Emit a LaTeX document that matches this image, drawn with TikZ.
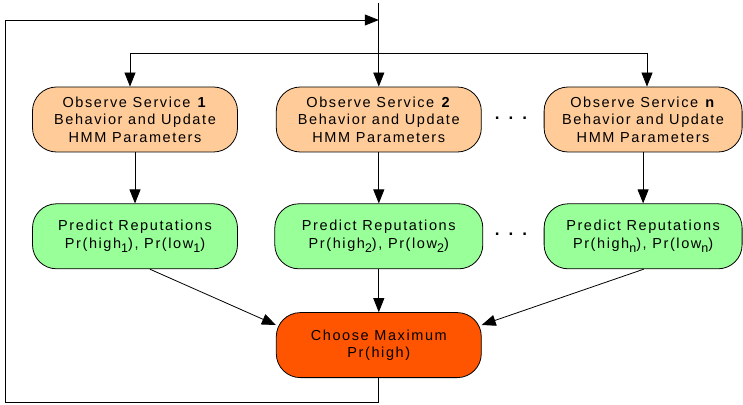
\documentclass[tikz,border=0pt]{standalone}
\usepackage{fontspec}
\setmainfont{Liberation Sans}[LetterSpace=11]
\usetikzlibrary{arrows.meta,positioning,shapes}
\tikzset{
  box/.style={draw, line width=0.8pt, rounded corners=24pt, minimum width=205pt,
    minimum height=65pt, align=center, inner sep=2pt,
    font=\fontsize{14.5}{17.5}\selectfont},
  obsbox/.style={box, fill=obscol},
  predbox/.style={box, fill=predcol},
  maxbox/.style={box, fill=maxcol},
  flow/.style={line width=0.8pt, -{Triangle[length=14pt,width=11pt]}},
  link/.style={line width=0.8pt}
}
\definecolor{obscol}{HTML}{FFCC99}
\definecolor{predcol}{HTML}{99FF99}
\definecolor{maxcol}{HTML}{FF5500}
\newcommand\dotsgap{\textbf{.\hspace{9pt}.\hspace{9pt}.}}
\newcommand\sub[1]{\raisebox{-4.5pt}{\fontsize{12.5}{12.5}\selectfont #1}}

\begin{document}
\begin{tikzpicture}[x=1pt, y=1pt]
    \useasboundingbox (0,0) rectangle (743,404);
    \node[obsbox] (obs1) at (135,284.5) {Observe Service \textbf{1}\\Behavior and Update\\HMM Parameters};
    \node[obsbox] (obs2) [right=38pt of obs1] {Observe Service \textbf{2}\\Behavior and Update\\HMM Parameters};
    \node[obsbox, minimum width=198pt] (obsn) [right=62pt of obs2] {Observe Service \textbf{n}\\Behavior and Update\\HMM Parameters};
    \node[predbox] (pred1) [below=51pt of obs1] {Predict Reputations\\Pr(high\sub{1}), Pr(low\sub{1})};
    \node[predbox, minimum width=208pt] (pred2) [below=51pt of obs2] {Predict Reputations\\Pr(high\sub{2}), Pr(low\sub{2})};
    \node[predbox, minimum width=198pt] (predn) [below=51pt of obsn] {Predict Reputations\\Pr(high\sub{n}), Pr(low\sub{n})};
    \node[maxbox] (choose) [below=43pt of pred2] {Choose Maximum\\Pr(high)};
    \node[font=\fontsize{17}{17}\selectfont] (dots1) at (512,286) {\dotsgap};
    \node[font=\fontsize{17}{17}\selectfont] (dots2) at (512,170) {\dotsgap};

    % input and split
    \coordinate (top) at (obs2.north |- 0,401);
    \coordinate (splitL) at (130,351);
    \coordinate (splitR) at (647,351);
    \draw[flow] (top) -- (obs2);
    \draw[link] (splitL) -- (splitR);
    \draw[flow] (splitL) -- (splitL |- obs1.north);
    \draw[flow] (splitR) -- (splitR |- obsn.north);

    % per service
    \draw[flow] (obs1) -- (pred1);
    \draw[flow] (obs2) -- (pred2);
    \draw[flow] (obsn) -- (predn);
    \draw[flow] (pred1.south east) ++(-88pt,0) -- (choose.west |- 0,79);
    \draw[flow] (predn.south west) ++(100pt,0) -- (choose.east |- 0,79);
    \draw[flow] (pred2) -- (choose);

    % feedback loop
    \coordinate (loopB) at (5,2);
    \coordinate (loopT) at (5,384);
    \draw[link] (choose.south) |- (loopB) -- (loopT);
    \draw[flow] (loopT) -- (top |- loopT);
\end{tikzpicture}
\end{document}
